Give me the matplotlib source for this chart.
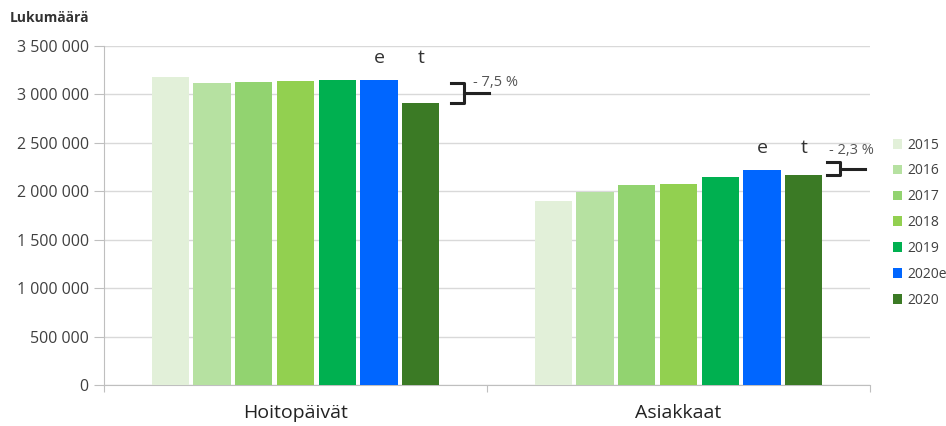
import matplotlib.pyplot as plt
from matplotlib.ticker import FuncFormatter

plt.rcParams['font.family'] = ['Open Sans', 'DejaVu Sans']

categories = ["Hoitopäivät", "Asiakkaat"]
years = ["2015", "2016", "2017", "2018", "2019", "2020e", "2020"]
hoitopaivat = [3180000, 3120000, 3130000, 3140000, 3150000, 3145000, 2910000]
asiakkaat = [1900000, 1990000, 2065000, 2080000, 2150000, 2215000, 2165000]
changes = ["- 7,5 %", "- 2,3 %"]
bracket_top = [3120000, 2300000]
bracket_bottom = [2910000, 2170000]
colors = ["#E2F0D9", "#B6E1A1", "#92D370", "#92D050", "#00B050", "#0066FF", "#3B7A25"]

values = [hoitopaivat, asiakkaat]

fig = plt.figure(figsize=(9.46, 4.26), dpi=100)
ax = fig.add_axes([104 / 946, 41 / 426, 766 / 946, 339 / 426])

step = 0.109
width = 0.097
for i, year in enumerate(years):
    xs = [c + (i - 3) * step for c in range(len(categories))]
    ys = [v[i] for v in values]
    ax.bar(xs, ys, width=width, color=colors[i], label=year, zorder=3)

# "e" and "t" marks above the last two bars, and the change bracket
gaps = [0.03, 0.012]
label_dx = [0.057, 0.006]
label_dy = [-70000, 45000]
for c, v in enumerate(values):
    xe = c + 2 * step
    xt = c + 3 * step
    ylab = v[5] + 140000
    ax.text(xe, ylab, "e", ha="center", va="bottom", fontsize=14, color="#333333")
    ax.text(xt, ylab, "t", ha="center", va="bottom", fontsize=14, color="#333333")

    top, bot = bracket_top[c], bracket_bottom[c]
    mid = (top + bot) / 2
    x0 = xt + width / 2 + gaps[c]
    x1 = x0 + 0.035
    ax.plot([x0, x1, x1, x0], [top, top, bot, bot], color="#222222", lw=2.2,
            solid_joinstyle="round", zorder=4, clip_on=False)
    ax.plot([x1, x1 + 0.065], [mid, mid], color="#222222", lw=2.2, zorder=4, clip_on=False)
    ax.text(x0 + label_dx[c], top + label_dy[c], changes[c], ha="left", va="bottom",
            fontsize=10.5, color="#555555")

ax.set_xlim(-0.5, 1.5)
ax.set_ylim(0, 3500000)
ax.set_yticks(range(0, 3500001, 500000))
ax.yaxis.set_major_formatter(FuncFormatter(lambda y, p: f"{int(y):,}".replace(",", " ")))
ax.grid(axis="y", color="#D9D9D9", lw=1, zorder=0)

ax.set_xticks([-0.5, 0.5, 1.5])
ax.set_xticklabels([])
ax.set_xticks([0, 1], minor=True)
ax.set_xticklabels(categories, minor=True, fontsize=14, color="#222222")
ax.tick_params(axis="x", which="minor", length=0, pad=14)
ax.tick_params(axis="x", which="major", length=5, color="#BFBFBF")
ax.tick_params(axis="y", length=7, color="#BFBFBF", labelsize=11.5, labelcolor="#404040", pad=4)

for s in ["top", "right"]:
    ax.spines[s].set_visible(False)
for s in ["left", "bottom"]:
    ax.spines[s].set_color("#BFBFBF")

fig.text(10 / 946, 1 - 18 / 426, "Lukumäärä", fontsize=10, fontweight="bold",
         color="#333333", va="center")

fig.legend(loc="upper left", bbox_to_anchor=(887 / 946, 1 - 132 / 426), frameon=False,
           fontsize=10, handlelength=0.7, handleheight=0.7, handletextpad=0.4,
           labelspacing=0.78, borderaxespad=0, labelcolor="#404040")

fig.savefig("out.png", dpi=100)
